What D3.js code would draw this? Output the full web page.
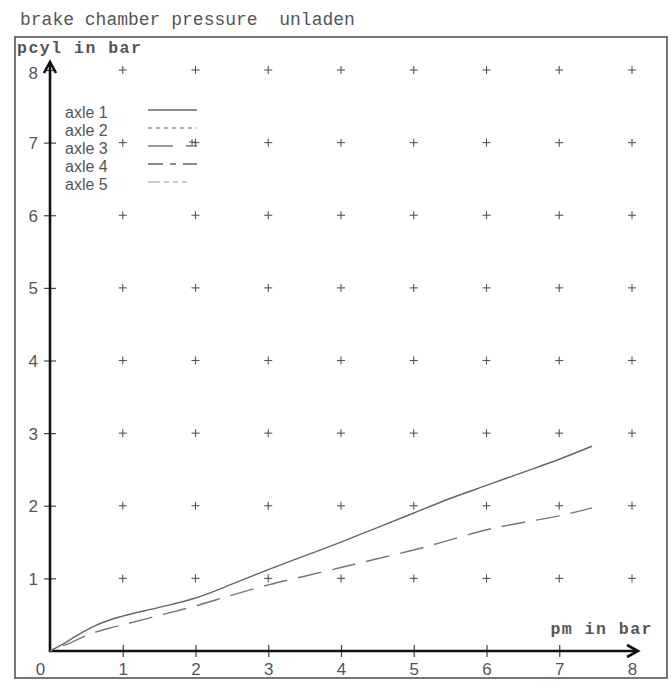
<!DOCTYPE html>
<html><head><meta charset="utf-8">
<script src="https://cdn.jsdelivr.net/npm/d3@7/dist/d3.min.js"></script>
<style>
html,body{margin:0;padding:0;background:#fff;}
svg{display:block;}
text{white-space:pre;}
</style></head>
<body>
<script>
const title = "brake chamber pressure  unladen";
const yLabel = "pcyl in bar";
const xLabel = "pm in bar";
const ticks = [0,1,2,3,4,5,6,7,8];
const gridVals = [1,2,3,4,5,6,7,8];
const legendNames = ["axle 1","axle 2","axle 3","axle 4","axle 5"];
const pm    = [0, 0.15, 0.3, 0.45, 0.6, 0.8, 1, 1.5, 2, 2.5, 3, 3.5, 4, 4.5, 5, 5.5, 6, 6.5, 7, 7.45];
const axle1 = [0, 0.08, 0.17, 0.26, 0.34, 0.42, 0.48, 0.6, 0.73, 0.92, 1.12, 1.31, 1.5, 1.7, 1.9, 2.1, 2.28, 2.46, 2.64, 2.82];
const axle4 = [0, 0.06, 0.12, 0.19, 0.25, 0.31, 0.36, 0.49, 0.62, 0.77, 0.91, 1.03, 1.15, 1.27, 1.39, 1.53, 1.67, 1.77, 1.86, 1.97];

const W = 671, H = 686;
const svg = d3.select("body").append("svg").attr("width", W).attr("height", H);

const x = d3.scaleLinear().domain([0, 8]).range([50, 632]);
const y = d3.scaleLinear().domain([0, 8]).range([651, 70]);

// title
svg.append("text").attr("x", 20).attr("y", 25)
  .attr("font-family", "Liberation Mono, Courier New, monospace")
  .attr("font-size", 18).attr("fill", "#555").text(title);

// frame
svg.append("rect").attr("x", 15).attr("y", 37).attr("width", 652).attr("height", 641)
  .attr("fill", "none").attr("stroke", "#555").attr("stroke-width", 1.6);

// grid plus markers
const plusG = svg.append("g").attr("stroke", "#555").attr("stroke-width", 1.1);
gridVals.forEach(gx => gridVals.forEach(gy => {
  const cx = x(gx), cy = y(gy);
  plusG.append("line").attr("x1", cx - 4).attr("x2", cx + 4).attr("y1", cy).attr("y2", cy);
  plusG.append("line").attr("x1", cx).attr("x2", cx).attr("y1", cy - 4).attr("y2", cy + 4);
}));

// y axis
const yAxis = svg.append("g").attr("transform", `translate(${x(0)},0)`)
  .call(d3.axisLeft(y).tickValues(ticks.filter(t => t > 0)).tickSize(6).tickPadding(7).tickFormat(d3.format("d")));
yAxis.select(".domain").remove();
yAxis.selectAll(".tick line").attr("x1", -6).attr("x2", 6).attr("stroke", "#444").attr("stroke-width", 1.2);
yAxis.selectAll(".tick text").attr("font-family", "Liberation Sans, Arial, sans-serif")
  .attr("font-size", 17).attr("fill", "#555").attr("x", -12).attr("dy", "0.35em")
  .filter(d => d === 8).attr("dy", "0.5em");

// x axis
const xAxis = svg.append("g").attr("transform", `translate(0,${y(0)})`)
  .call(d3.axisBottom(x).tickValues(ticks).tickSize(6).tickPadding(6).tickFormat(d3.format("d")));
xAxis.select(".domain").remove();
xAxis.selectAll(".tick line").attr("y1", -6).attr("y2", 6).attr("stroke", "#444").attr("stroke-width", 1.2)
  .filter(d => d === 0 || d === 8).remove();
xAxis.selectAll(".tick text").attr("font-family", "Liberation Sans, Arial, sans-serif")
  .attr("font-size", 17).attr("fill", "#555").attr("y", 12).attr("dy", "0.71em")
  .filter(d => d === 0).attr("x", -10);

// axis lines with arrows
svg.append("line").attr("x1", x(0)).attr("x2", x(0)).attr("y1", y(0) + 1).attr("y2", 63)
  .attr("stroke", "#111").attr("stroke-width", 2.6);
svg.append("path").attr("d", `M${x(0) - 6},73 L${x(0)},62 L${x(0) + 6},73`)
  .attr("fill", "none").attr("stroke", "#111").attr("stroke-width", 2.6);
svg.append("line").attr("x1", x(0) - 1).attr("x2", 637).attr("y1", y(0)).attr("y2", y(0))
  .attr("stroke", "#111").attr("stroke-width", 2.6);
svg.append("path").attr("d", `M627,${y(0) - 6} L638,${y(0)} L627,${y(0) + 6}`)
  .attr("fill", "none").attr("stroke", "#111").attr("stroke-width", 2.6);

// axis labels
svg.append("text").attr("x", 17).attr("y", 53)
  .attr("font-family", "Liberation Mono, Courier New, monospace").attr("font-weight", "bold")
  .attr("font-size", 16.5).attr("letter-spacing", 1.5).attr("fill", "#555").text(yLabel);
svg.append("text").attr("x", 653).attr("y", 634).attr("text-anchor", "end")
  .attr("font-family", "Liberation Mono, Courier New, monospace").attr("font-weight", "bold")
  .attr("font-size", 16.5).attr("letter-spacing", 1.5).attr("fill", "#555").text(xLabel);

// curves
const line = d3.line().x(d => x(d[0])).y(d => y(d[1])).curve(d3.curveMonotoneX);
svg.append("path").datum(pm.map((p, i) => [p, axle1[i]])).attr("d", line)
  .attr("fill", "none").attr("stroke", "#666").attr("stroke-width", 1.4);
svg.append("path").datum(pm.map((p, i) => [p, axle4[i]])).attr("d", line)
  .attr("fill", "none").attr("stroke", "#777").attr("stroke-width", 1.4)
  .attr("stroke-dasharray", "24,11").attr("stroke-dashoffset", -14);

// legend
const legY = [112, 130, 148, 166, 184];
const legStyles = [
  {dash: null, color: "#666"},
  {dash: "4,4", color: "#999"},
  {dash: "25,13,11", color: "#777"},
  {dash: "15,7,6,7,15", color: "#666"},
  {dash: "12,4,5,4,5,4,5", color: "#bbb"}
];
const leg = svg.append("g");
legendNames.forEach((name, i) => {
  leg.append("text").attr("x", 65).attr("y", legY[i] + 6)
    .attr("font-family", "Liberation Sans, Arial, sans-serif").attr("font-size", 16)
    .attr("fill", "#555").text(name);
  leg.append("line").attr("x1", 148).attr("x2", 197).attr("y1", legY[i] - 2).attr("y2", legY[i] - 2)
    .attr("stroke", legStyles[i].color).attr("stroke-width", 1.3)
    .attr("stroke-dasharray", legStyles[i].dash);
});
// marker on axle 3 legend line
leg.append("line").attr("x1", 192).attr("x2", 192).attr("y1", legY[2] - 9).attr("y2", legY[2] - 3)
  .attr("stroke", "#666").attr("stroke-width", 1.1);
leg.append("line").attr("x1", 189).attr("x2", 195).attr("y1", legY[2] - 6).attr("y2", legY[2] - 6)
  .attr("stroke", "#666").attr("stroke-width", 1.1);
</script>
</body></html>
